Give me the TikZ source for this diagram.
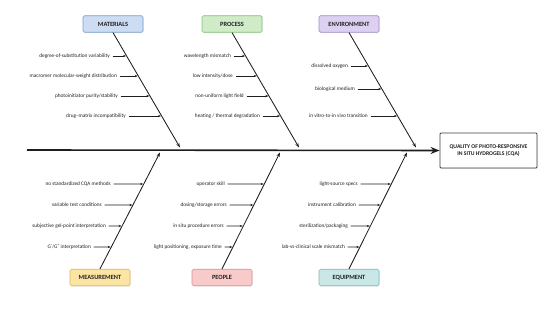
\documentclass[tikz,border=0pt]{standalone}
\usepackage{fontspec}
\setmainfont{Carlito}
\newfontfamily\primefont{DejaVu Sans}
\usetikzlibrary{arrows.meta,shadows,calc}
\definecolor{ink}{HTML}{1E1E1E}
\definecolor{txt}{HTML}{222222}
\definecolor{matF}{HTML}{CBDCF3}\definecolor{matD}{HTML}{7C9ECC}
\definecolor{proF}{HTML}{CFEBC8}\definecolor{proD}{HTML}{88BF7E}
\definecolor{envF}{HTML}{DDD1F1}\definecolor{envD}{HTML}{A38CCA}
\definecolor{meaF}{HTML}{FCE4A2}\definecolor{meaD}{HTML}{E2B75B}
\definecolor{peoF}{HTML}{F8CACA}\definecolor{peoD}{HTML}{DE9090}
\definecolor{equF}{HTML}{C9E7E7}\definecolor{equD}{HTML}{80BABA}
\newcommand\causeArrow[5]{%
  \node[causetxt] (#1) at (#2) {#5};
  \draw[causearr] ([xshift=2.5pt]#1.east) -- (intersection cs: first line={(#3)--(#4)}, second line={(#1.east)--([xshift=10pt]#1.east)});
}
\begin{document}
\begin{tikzpicture}[x=1pt,y=-1pt,
  catbox/.style args={#1/#2}{draw=#2,fill=#1,line width=0.7pt,rounded corners=1.5pt,
     minimum width=60pt,minimum height=16.5pt,inner sep=0pt,
     font=\fontsize{6.4}{7}\selectfont\bfseries,text=txt,
     drop shadow={opacity=0.18,shadow xshift=0.6pt,shadow yshift=-0.8pt}},
  causetxt/.style={anchor=east,inner sep=0pt,font=\fontsize{5.3}{6}\selectfont,text=txt},
  causearr/.style={draw=ink,line width=0.6pt,-{Stealth[length=3pt,width=2.3pt]},shorten >=0.6pt},
  brancharr/.style={draw=ink,line width=0.85pt,-{Stealth[length=4.5pt,width=3.2pt]}},
  spinearr/.style={draw=ink,line width=1.6pt,-{Stealth[length=9pt,width=7pt]}},
  effbox/.style={draw=ink!85,fill=white,line width=0.8pt,rounded corners=1pt,
     minimum width=97pt,minimum height=35pt,inner sep=0pt,align=center,
     font=\fontsize{5.7}{7.5}\selectfont\bfseries,text=ink,
     drop shadow={opacity=0.18,shadow xshift=0.6pt,shadow yshift=-0.8pt}}]
\useasboundingbox[fill=white] (0,0) rectangle (550,312);

% effect and spine
\node[effbox] (eff) at (488.5,150.5) {QUALITY OF PHOTO-RESPONSIVE\\IN SITU HYDROGELS (CQA)};
\coordinate (spst) at (27,150);
\draw[spinearr] (spst) -- (eff.west);

% category boxes
\node[catbox=matF/matD] (mat) at (113,24) {MATERIALS};
\node[catbox=proF/proD] (pro) at (232,24) {PROCESS};
\node[catbox=envF/envD] (env) at (349,24) {ENVIRONMENT};
\node[catbox=meaF/meaD] (mea) at (100,277.5) {MEASUREMENT};
\node[catbox=peoF/peoD] (peo) at (222,277.5) {PEOPLE};
\node[catbox=equF/equD] (equ) at (349,277.5) {EQUIPMENT};

% branch tips on spine
\coordinate (matT) at (180,147.5);
\coordinate (proT) at (299,147.5);
\coordinate (envT) at (416,147.5);
\coordinate (meaT) at (160,152.5);
\coordinate (peoT) at (280,152.5);
\coordinate (equT) at (407,152.5);

\draw[brancharr] (mat.south) -- (matT);
\draw[brancharr] (pro.south) -- (proT);
\draw[brancharr] (env.south) -- (envT);
\draw[brancharr] (mea.north) -- (meaT);
\draw[brancharr] (peo.north) -- (peoT);
\draw[brancharr] (equ.north) -- (equT);

% causes: materials
\causeArrow{m1}{110,56}{mat.south}{matT}{degree-of-substitution variability}
\causeArrow{m2}{117,76}{mat.south}{matT}{macromer molecular-weight distribution}
\causeArrow{m3}{118,96}{mat.south}{matT}{photoinitiator purity/stability}
\causeArrow{m4}{126,116}{mat.south}{matT}{drug–matrix incompatibility}
% process
\causeArrow{p1}{231,56}{pro.south}{proT}{wavelength mismatch}
\causeArrow{p2}{233,76}{pro.south}{proT}{low intensity/dose}
\causeArrow{p3}{244,96}{pro.south}{proT}{non-uniform light field}
\causeArrow{p4}{260,116}{pro.south}{proT}{heating / thermal degradation}
% environment
\causeArrow{e1}{348,66}{env.south}{envT}{dissolved oxygen}
\causeArrow{e2}{355,89}{env.south}{envT}{biological medium}
\causeArrow{e3}{368,116}{env.south}{envT}{in vitro-to-in vivo transition}
% measurement
\causeArrow{q1}{111,184}{mea.north}{meaT}{no standardized CQA methods}
\causeArrow{q2}{102,205}{mea.north}{meaT}{variable test conditions}
\causeArrow{q3}{106,226}{mea.north}{meaT}{subjective gel-point interpretation}
\causeArrow{q4}{91,247}{mea.north}{meaT}{G{\primefont ′}/G{\primefont ″} interpretation}
% people
\causeArrow{r1}{225,184}{peo.north}{peoT}{operator skill}
\causeArrow{r2}{227,205}{peo.north}{peoT}{dosing/storage errors}
\causeArrow{r3}{224,226}{peo.north}{peoT}{in situ procedure errors}
\causeArrow{r4}{222,247}{peo.north}{peoT}{light positioning, exposure time}
% equipment
\causeArrow{s1}{358,184}{equ.north}{equT}{light-source specs}
\causeArrow{s2}{356,205}{equ.north}{equT}{instrument calibration}
\causeArrow{s3}{348,226}{equ.north}{equT}{sterilization/packaging}
\causeArrow{s4}{345,247}{equ.north}{equT}{lab-vs-clinical scale mismatch}
\end{tikzpicture}
\end{document}
